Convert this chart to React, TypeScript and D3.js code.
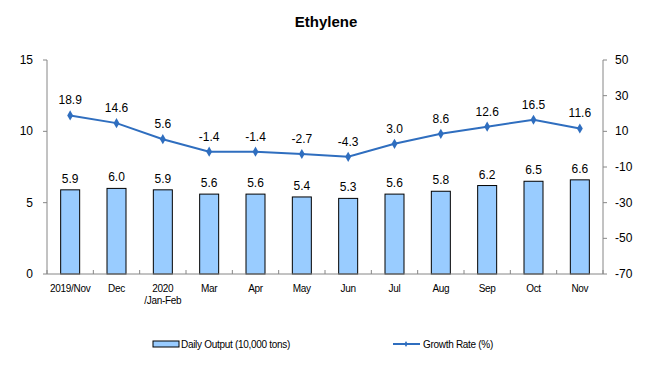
import React from "react";
import * as d3 from "d3";

const categories = ["2019/Nov", "Dec", "2020\n/Jan-Feb", "Mar", "Apr", "May", "Jun", "Jul", "Aug", "Sep", "Oct", "Nov"];
const dailyOutput = [5.9, 6.0, 5.9, 5.6, 5.6, 5.4, 5.3, 5.6, 5.8, 6.2, 6.5, 6.6];
const growthRate = [18.9, 14.6, 5.6, -1.4, -1.4, -2.7, -4.3, 3.0, 8.6, 12.6, 16.5, 11.6];
const leftTicks = [0, 5, 10, 15];
const rightTicks = [-70, -50, -30, -10, 10, 30, 50];

export default function App() {
  const W = 653, H = 390;
  const left = 47, right = 603, top = 60, bottom = 274;
  const x = d3.scaleBand<string>().domain(categories).range([left, right]);
  const yL = d3.scaleLinear().domain([0, 15]).range([bottom, top]);
  const yR = d3.scaleLinear().domain([-70, 50]).range([bottom, top]);
  const barW = 19;
  const cx = (c: string) => (x(c) as number) + x.bandwidth() / 2;
  const line = d3.line<number>().x((_, i) => cx(categories[i])).y((d) => yR(d));
  const font = "Liberation Sans, Arial, sans-serif";
  const blue = "#2f6ebf";
  const axisCol = "#868686";
  const boundaries = d3.range(categories.length + 1).map((i) => left + i * x.step());

  return (
    <svg width={W} height={H} style={{ position: "absolute", left: 0, top: 0, background: "#fff" }} fontFamily={font}>
      <text x={326} y={27} textAnchor="middle" fontSize={15} fontWeight="bold" fill="#000">Ethylene</text>

      {/* bars */}
      {dailyOutput.map((v, i) => (
        <rect key={"b" + i} x={cx(categories[i]) - barW / 2} y={yL(v)} width={barW} height={yL(0) - yL(v)}
          fill="#99ccff" stroke="#000" strokeWidth={1} />
      ))}
      {dailyOutput.map((v, i) => (
        <text key={"bl" + i} x={cx(categories[i])} y={yL(v) - 7} textAnchor="middle" fontSize={12} fill="#000">{v.toFixed(1)}</text>
      ))}

      {/* axes */}
      <line x1={left} x2={left} y1={top} y2={bottom} stroke={axisCol} />
      {leftTicks.map((t) => (
        <g key={"lt" + t}>
          <line x1={left - 4} x2={left} y1={yL(t)} y2={yL(t)} stroke={axisCol} />
          <text x={left - 14} y={yL(t) + 4} textAnchor="end" fontSize={12} fill="#000">{t}</text>
        </g>
      ))}
      <line x1={right} x2={right} y1={top} y2={bottom} stroke={axisCol} />
      {rightTicks.map((t) => (
        <g key={"rt" + t}>
          <line x1={right} x2={right + 4} y1={yR(t)} y2={yR(t)} stroke={axisCol} />
          <text x={right + 12} y={yR(t) + 4} textAnchor="start" fontSize={12} fill="#000">{t}</text>
        </g>
      ))}
      <line x1={left} x2={right} y1={bottom} y2={bottom} stroke={axisCol} />
      {boundaries.map((b, i) => (
        <line key={"bt" + i} x1={b} x2={b} y1={bottom - 4} y2={bottom} stroke={axisCol} />
      ))}
      {categories.map((c, i) => (
        <text key={"c" + i} x={cx(c)} y={bottom + 18} textAnchor="middle" fontSize={10} fill="#000" letterSpacing={-0.3}>
          {c.split("\n").map((s, j) => (
            <tspan key={j} x={cx(c)} dy={j === 0 ? 0 : 12}>{s}</tspan>
          ))}
        </text>
      ))}

      {/* line */}
      <path d={line(growthRate) || ""} fill="none" stroke={blue} strokeWidth={2} />
      {growthRate.map((v, i) => (
        <path key={"m" + i} d={d3.symbol(d3.symbolDiamond, 30)() || ""} transform={`translate(${cx(categories[i])},${yR(v)})`} fill={blue} />
      ))}
      {growthRate.map((v, i) => (
        <text key={"gl" + i} x={cx(categories[i])} y={yR(v) - 11} textAnchor="middle" fontSize={12} fill="#000">{v.toFixed(1)}</text>
      ))}

      {/* legend */}
      <rect x={153} y={341} width={26} height={6} fill="#99ccff" stroke="#000" strokeWidth={1} />
      <text x={181} y={348} fontSize={10} fill="#000" letterSpacing={-0.3}>Daily Output (10,000 tons)</text>
      <line x1={393} x2={420} y1={344} y2={344} stroke={blue} strokeWidth={2} />
      <path d={d3.symbol(d3.symbolDiamond, 10)() || ""} transform="translate(406,344)" fill={blue} />
      <text x={423} y={348} fontSize={10} fill="#000" letterSpacing={-0.3}>Growth Rate (%)</text>
    </svg>
  );
}
